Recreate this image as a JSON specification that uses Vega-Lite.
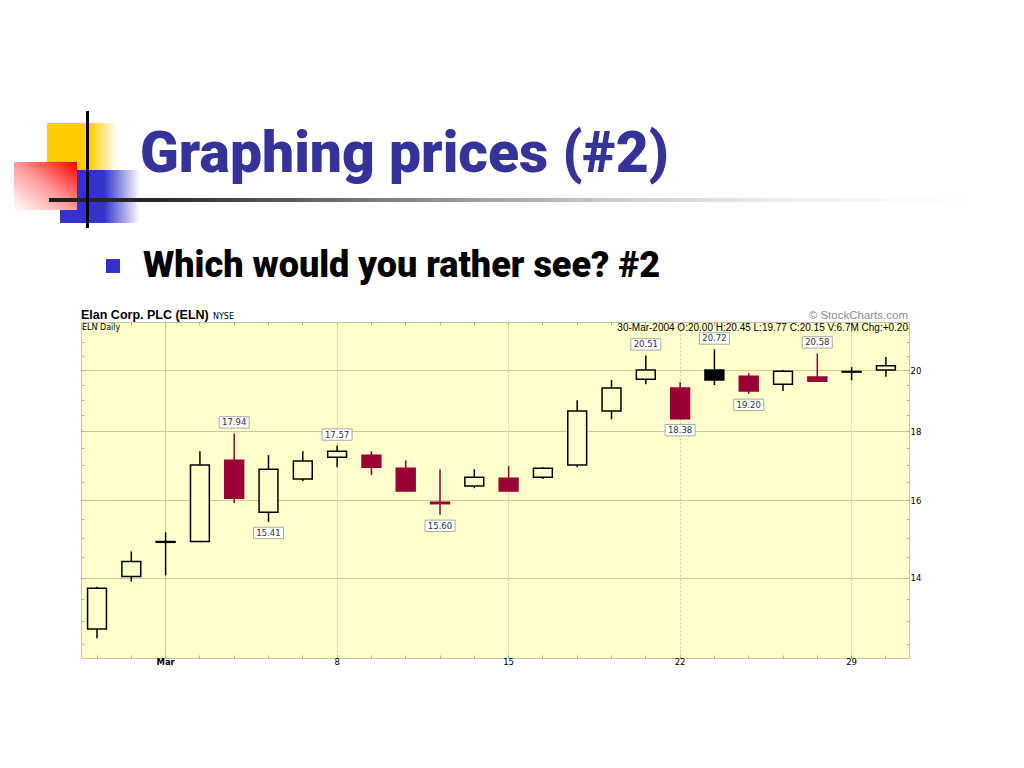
{
  "$schema": "https://vega.github.io/schema/vega-lite/v6.json",
  "width": 828,
  "height": 336,
  "autosize": {"type": "none"},
  "padding": {"left": 81, "top": 322, "right": 115, "bottom": 110},
  "background": "#FFFFFF",
  "config": {
    "view": {"fill": "#FFFFCC", "stroke": "#C9C59A", "strokeWidth": 1}
  },
  "datasets": {
    "candles": [
      {"date": "2004-02-26", "open": 12.82, "high": 13.79, "low": 12.62, "close": 13.75, "candle": "hollow_black"},
      {"date": "2004-02-27", "open": 14.03, "high": 14.65, "low": 13.91, "close": 14.40, "candle": "hollow_black"},
      {"date": "2004-03-01", "open": 14.88, "high": 15.14, "low": 14.06, "close": 14.90, "candle": "hollow_black"},
      {"date": "2004-03-02", "open": 14.90, "high": 17.40, "low": 14.88, "close": 16.99, "candle": "hollow_black"},
      {"date": "2004-03-03", "open": 17.13, "high": 17.94, "low": 15.92, "close": 16.05, "candle": "filled_red"},
      {"date": "2004-03-04", "open": 15.67, "high": 17.28, "low": 15.41, "close": 16.87, "candle": "hollow_black"},
      {"date": "2004-03-05", "open": 16.59, "high": 17.40, "low": 16.53, "close": 17.11, "candle": "hollow_black"},
      {"date": "2004-03-08", "open": 17.22, "high": 17.57, "low": 16.93, "close": 17.40, "candle": "hollow_black"},
      {"date": "2004-03-09", "open": 17.28, "high": 17.40, "low": 16.70, "close": 16.93, "candle": "filled_red"},
      {"date": "2004-03-10", "open": 16.90, "high": 17.13, "low": 16.23, "close": 16.25, "candle": "filled_red"},
      {"date": "2004-03-11", "open": 15.90, "high": 16.87, "low": 15.60, "close": 15.94, "candle": "hollow_red"},
      {"date": "2004-03-12", "open": 16.39, "high": 16.87, "low": 16.33, "close": 16.64, "candle": "hollow_black"},
      {"date": "2004-03-15", "open": 16.61, "high": 16.96, "low": 16.23, "close": 16.25, "candle": "filled_red"},
      {"date": "2004-03-16", "open": 16.64, "high": 16.93, "low": 16.59, "close": 16.90, "candle": "hollow_black"},
      {"date": "2004-03-17", "open": 16.99, "high": 18.99, "low": 16.93, "close": 18.64, "candle": "hollow_black"},
      {"date": "2004-03-18", "open": 18.64, "high": 19.66, "low": 18.38, "close": 19.39, "candle": "hollow_black"},
      {"date": "2004-03-19", "open": 19.69, "high": 20.51, "low": 19.52, "close": 20.00, "candle": "hollow_black"},
      {"date": "2004-03-22", "open": 19.39, "high": 19.59, "low": 18.38, "close": 18.40, "candle": "filled_red"},
      {"date": "2004-03-23", "open": 20.00, "high": 20.72, "low": 19.49, "close": 19.66, "candle": "filled_black"},
      {"date": "2004-03-24", "open": 19.79, "high": 19.89, "low": 19.20, "close": 19.29, "candle": "filled_red"},
      {"date": "2004-03-25", "open": 19.52, "high": 20.00, "low": 19.29, "close": 19.96, "candle": "hollow_black"},
      {"date": "2004-03-26", "open": 19.76, "high": 20.58, "low": 19.62, "close": 19.62, "candle": "filled_red"},
      {"date": "2004-03-29", "open": 19.93, "high": 20.10, "low": 19.65, "close": 19.95, "candle": "hollow_black"},
      {"date": "2004-03-30", "open": 20.00, "high": 20.45, "low": 19.77, "close": 20.15, "candle": "hollow_black"}
    ],
    "notes": [
      {"date": "2004-03-03", "value": 17.94, "pos": "above"},
      {"date": "2004-03-04", "value": 15.41, "pos": "below"},
      {"date": "2004-03-08", "value": 17.57, "pos": "above"},
      {"date": "2004-03-11", "value": 15.60, "pos": "below"},
      {"date": "2004-03-19", "value": 20.51, "pos": "above"},
      {"date": "2004-03-22", "value": 18.38, "pos": "below"},
      {"date": "2004-03-23", "value": 20.72, "pos": "above"},
      {"date": "2004-03-24", "value": 19.20, "pos": "below"},
      {"date": "2004-03-26", "value": 20.58, "pos": "above"}
    ]
  },
  "layer": [
    {
      "data": {"name": "candles"},
      "layer": [
        {
          "mark": {"type": "rule", "strokeWidth": 1.5},
          "encoding": {
            "x": {
              "field": "date", "type": "ordinal",
              "scale": {
                "type": "band",
                "domain": ["2004-02-26","2004-02-27","2004-03-01","2004-03-02","2004-03-03","2004-03-04","2004-03-05","2004-03-08","2004-03-09","2004-03-10","2004-03-11","2004-03-12","2004-03-15","2004-03-16","2004-03-17","2004-03-18","2004-03-19","2004-03-22","2004-03-23","2004-03-24","2004-03-25","2004-03-26","2004-03-29","2004-03-30"],
                "paddingInner": 0.45, "paddingOuter": 0.295, "align": 0.325
              },
              "axis": {
                "orient": "bottom", "title": null, "domain": false, "labelAngle": 0,
                "labelOverlap": false,
                "labelExpr": "datum.value == '2004-03-01' ? 'Mar' : (indexof(['2004-03-08','2004-03-15','2004-03-22','2004-03-29'], datum.value) >= 0 ? '' + toNumber(slice(datum.value, 8)) : '')",
                "labelFont": "DejaVu Sans", "labelFontSize": 8.5, "labelColor": "#000000",
                "labelFontWeight": {"condition": {"test": "datum.value == '2004-03-01'", "value": "bold"}, "value": "normal"},
                "labelPadding": 2,
                "grid": true, "gridColor": "#CFCB98", "gridWidth": 1,
                "gridOpacity": {"condition": {"test": "indexof(['2004-03-01','2004-03-08','2004-03-15','2004-03-22','2004-03-29'], datum.value) >= 0", "value": 1}, "value": 0},
                "gridDash": {"condition": {"test": "datum.value == '2004-03-01'", "value": []}, "value": [2, 2]},
                "ticks": true, "tickSize": -3, "tickColor": "#B5B188"
              }
            },
            "y": {
              "field": "low", "type": "quantitative",
              "scale": {"type": "log", "domain": [12.2, 21.72], "nice": false},
              "axis": {
                "orient": "right", "title": null, "domain": false,
                "values": [12.5,13,13.5,14,14.5,15,15.5,16,16.5,17,17.5,18,18.5,19,19.5,20,20.5,21,21.5],
                "labelExpr": "(datum.value == 14 || datum.value == 16 || datum.value == 18 || datum.value == 20) ? format(datum.value, 'd') : ''",
                "labelFont": "DejaVu Sans", "labelFontSize": 8.5, "labelColor": "#000000", "labelPadding": 4,
                "labelOverlap": false,
                "grid": true, "gridColor": "#CFCB98", "gridWidth": 1,
                "gridOpacity": {"condition": {"test": "datum.value == 14 || datum.value == 16 || datum.value == 18 || datum.value == 20", "value": 1}, "value": 0},
                "ticks": true, "tickSize": -3, "tickColor": "#B5B188"
              }
            },
            "y2": {"field": "high"},
            "stroke": {
              "field": "candle", "type": "nominal",
              "scale": {"domain": ["hollow_black", "filled_red", "hollow_red", "filled_black"], "range": ["#000000", "#990033", "#990033", "#000000"]},
              "legend": null
            }
          }
        },
        {
          "mark": {"type": "bar", "strokeWidth": 1.5},
          "encoding": {
            "x": {
              "field": "date", "type": "ordinal",
              "axis": {"orient": "top", "title": null, "labels": false, "domain": false, "grid": false, "tickSize": -3, "tickColor": "#B5B188"}
            },
            "y": {
              "field": "open", "type": "quantitative",
              "axis": {"orient": "left", "title": null, "labels": false, "domain": false, "grid": false,
                "values": [12.5,13,13.5,14,14.5,15,15.5,16,16.5,17,17.5,18,18.5,19,19.5,20,20.5,21,21.5],
                "tickSize": -3, "tickColor": "#B5B188"}
            },
            "y2": {"field": "close"},
            "fill": {
              "field": "candle", "type": "nominal",
              "scale": {"domain": ["hollow_black", "filled_red", "hollow_red", "filled_black"], "range": ["#FFFFCC", "#990033", "#FFFFCC", "#000000"]},
              "legend": null
            },
            "stroke": {"field": "candle", "type": "nominal", "legend": null}
          }
        },
        {
          "data": {"name": "notes"},
          "transform": [{"filter": "datum.pos == 'above'"}],
          "mark": {"type": "point", "shape": "M-1,-0.38H1V0.38H-1Z", "size": 900, "filled": true, "fill": "#FFFFFF", "stroke": "#A8A8A8", "strokeWidth": 1, "opacity": 1, "yOffset": -11},
          "encoding": {
            "x": {"field": "date", "type": "ordinal", "axis": null},
            "y": {"field": "value", "type": "quantitative", "axis": null}
          }
        },
        {
          "data": {"name": "notes"},
          "transform": [{"filter": "datum.pos == 'above'"}],
          "mark": {"type": "text", "font": "DejaVu Sans", "fontSize": 8.5, "color": "#333333", "baseline": "middle", "yOffset": -11},
          "encoding": {
            "x": {"field": "date", "type": "ordinal", "axis": null},
            "y": {"field": "value", "type": "quantitative", "axis": null},
            "text": {"field": "value", "type": "quantitative", "format": ".2f"}
          }
        },
        {
          "data": {"name": "notes"},
          "transform": [{"filter": "datum.pos == 'below'"}],
          "mark": {"type": "point", "shape": "M-1,-0.38H1V0.38H-1Z", "size": 900, "filled": true, "fill": "#FFFFFF", "stroke": "#A8A8A8", "strokeWidth": 1, "opacity": 1, "yOffset": 11},
          "encoding": {
            "x": {"field": "date", "type": "ordinal", "axis": null},
            "y": {"field": "value", "type": "quantitative", "axis": null}
          }
        },
        {
          "data": {"name": "notes"},
          "transform": [{"filter": "datum.pos == 'below'"}],
          "mark": {"type": "text", "font": "DejaVu Sans", "fontSize": 8.5, "color": "#333333", "baseline": "middle", "yOffset": 11},
          "encoding": {
            "x": {"field": "date", "type": "ordinal", "axis": null},
            "y": {"field": "value", "type": "quantitative", "axis": null},
            "text": {"field": "value", "type": "quantitative", "format": ".2f"}
          }
        }
      ],
      "resolve": {"axis": {"x": "independent", "y": "independent"}}
    },
    {
      "data": {"values": [{}]},
      "layer": [
        {
          "mark": {"type": "rect", "fill": {"gradient": "linear", "x1": 0, "y1": 0, "x2": 1, "y2": 0, "stops": [{"offset": 0, "color": "#FFCC00"}, {"offset": 0.6, "color": "#FFCC00"}, {"offset": 1, "color": "#FFFFFF"}]}},
          "encoding": {
            "x": {"datum": 47, "type": "quantitative", "scale": {"domain": [81, 909], "nice": false, "zero": false}, "axis": null},
            "x2": {"datum": 117},
            "y": {"datum": 123, "type": "quantitative", "scale": {"domain": [322, 658], "reverse": true, "nice": false, "zero": false}, "axis": null},
            "y2": {"datum": 170}
          }
        },
        {
          "mark": {"type": "rect", "fill": {"gradient": "linear", "x1": 0, "y1": 0, "x2": 1, "y2": 0, "stops": [{"offset": 0, "color": "#3333CC"}, {"offset": 0.55, "color": "#3333CC"}, {"offset": 1, "color": "#FFFFFF"}]}},
          "encoding": {
            "x": {"datum": 60, "type": "quantitative"}, "x2": {"datum": 140},
            "y": {"datum": 170, "type": "quantitative"}, "y2": {"datum": 223}
          }
        },
        {
          "mark": {"type": "rect", "fill": {"gradient": "linear", "x1": 1, "y1": 0, "x2": 0, "y2": 1, "stops": [{"offset": 0, "color": "#FF0000"}, {"offset": 0.5, "color": "#FF9A9A"}, {"offset": 1, "color": "#FFFFFF"}]}},
          "encoding": {
            "x": {"datum": 14, "type": "quantitative"}, "x2": {"datum": 77},
            "y": {"datum": 162, "type": "quantitative"}, "y2": {"datum": 210}
          }
        },
        {
          "mark": {"type": "rect", "fill": {"gradient": "linear", "x1": 0, "y1": 0, "x2": 1, "y2": 0, "stops": [{"offset": 0, "color": "#1E1E1E"}, {"offset": 0.12, "color": "#2A2A2A"}, {"offset": 0.4, "color": "#8A8A8A"}, {"offset": 0.6, "color": "#C8C8C8"}, {"offset": 0.8, "color": "#EEEEEE"}, {"offset": 1, "color": "#FFFFFF"}]}},
          "encoding": {
            "x": {"datum": 49, "type": "quantitative"}, "x2": {"datum": 965},
            "y": {"datum": 198, "type": "quantitative"}, "y2": {"datum": 202}
          }
        },
        {
          "mark": {"type": "rect", "fill": "#000000"},
          "encoding": {
            "x": {"datum": 86, "type": "quantitative"}, "x2": {"datum": 89},
            "y": {"datum": 111, "type": "quantitative"}, "y2": {"datum": 228}
          }
        },
        {
          "mark": {"type": "rect", "fill": "#3333CC"},
          "encoding": {
            "x": {"datum": 106, "type": "quantitative"}, "x2": {"datum": 120},
            "y": {"datum": 259, "type": "quantitative"}, "y2": {"datum": 273}
          }
        },
        {
          "mark": {"type": "text", "text": "Graphing prices (#2)", "font": "Roboto, Liberation Sans, sans-serif", "fontWeight": 900, "fontSize": 57, "color": "#333399", "align": "left", "baseline": "alphabetic"},
          "encoding": {"x": {"datum": 140, "type": "quantitative"}, "y": {"datum": 172, "type": "quantitative"}}
        },
        {
          "mark": {"type": "text", "text": "Which would you rather see? #2", "font": "Roboto, Liberation Sans, sans-serif", "fontWeight": 900, "fontSize": 36, "color": "#000000", "align": "left", "baseline": "alphabetic"},
          "encoding": {"x": {"datum": 143, "type": "quantitative"}, "y": {"datum": 277, "type": "quantitative"}}
        },
        {
          "mark": {"type": "text", "text": "Elan Corp. PLC (ELN)", "font": "Liberation Sans", "fontWeight": "bold", "fontSize": 12.5, "color": "#000000", "align": "left", "baseline": "alphabetic"},
          "encoding": {"x": {"datum": 81, "type": "quantitative"}, "y": {"datum": 319, "type": "quantitative"}}
        },
        {
          "mark": {"type": "text", "text": "NYSE", "font": "DejaVu Sans", "fontSize": 8, "color": "#000000", "align": "left", "baseline": "alphabetic"},
          "encoding": {"x": {"datum": 213, "type": "quantitative"}, "y": {"datum": 319, "type": "quantitative"}}
        },
        {
          "mark": {"type": "text", "text": "ELN Daily", "font": "DejaVu Sans", "fontSize": 8, "color": "#000000", "align": "left", "baseline": "alphabetic"},
          "encoding": {"x": {"datum": 82, "type": "quantitative"}, "y": {"datum": 330, "type": "quantitative"}}
        },
        {
          "mark": {"type": "text", "text": "© StockCharts.com", "font": "Liberation Sans", "fontSize": 11.5, "color": "#8C8C8C", "align": "right", "baseline": "alphabetic"},
          "encoding": {"x": {"datum": 908, "type": "quantitative"}, "y": {"datum": 319, "type": "quantitative"}}
        },
        {
          "mark": {"type": "text", "text": "30-Mar-2004 O:20.00 H:20.45 L:19.77 C:20.15 V:6.7M Chg:+0.20", "font": "Liberation Sans", "fontSize": 10, "color": "#000000", "align": "right", "baseline": "alphabetic"},
          "encoding": {"x": {"datum": 908, "type": "quantitative"}, "y": {"datum": 331, "type": "quantitative"}}
        }
      ]
    }
  ],
  "resolve": {"scale": {"x": "independent", "y": "independent"}}
}
